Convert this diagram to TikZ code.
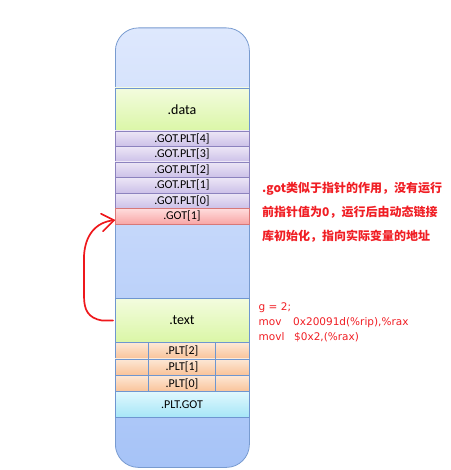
\documentclass[tikz,border=0pt]{standalone}
\usepackage{fontspec}
\setmainfont{Carlito}
\newfontfamily\cjk{Noto Sans CJK SC}
\newfontfamily\codefont{DejaVu Sans}
\usetikzlibrary{calc}
\definecolor{outerTop}{RGB}{222,232,253}
\definecolor{outerBot}{RGB}{166,195,247}
\definecolor{outerLine}{RGB}{120,155,208}
\definecolor{greenTop}{RGB}{243,252,222}
\definecolor{greenBot}{RGB}{218,246,166}
\definecolor{lavTop}{RGB}{236,230,246}
\definecolor{lavBot}{RGB}{204,192,232}
\definecolor{lavLine}{RGB}{140,130,190}
\definecolor{pinkTop}{RGB}{255,220,220}
\definecolor{pinkBot}{RGB}{248,166,166}
\definecolor{pinkLine}{RGB}{215,120,120}
\definecolor{orTop}{RGB}{253,232,214}
\definecolor{orBot}{RGB}{249,194,152}
\definecolor{cyTop}{RGB}{224,248,253}
\definecolor{cyBot}{RGB}{166,230,247}
\definecolor{bandLine}{RGB}{110,150,208}
\definecolor{penred}{RGB}{238,24,28}
\definecolor{txtred}{RGB}{240,30,36}
\tikzset{
  band/.style={shade, draw=bandLine, line width=0.7pt, minimum width=134pt,
    inner sep=0pt, outer sep=0pt, anchor=north west, text=black},
  greenband/.style={band, top color=greenTop, bottom color=greenBot, minimum height=43.5pt,
    font=\fontsize{14}{16}\selectfont},
  lavband/.style={band, top color=lavTop, bottom color=lavBot, draw=lavLine, minimum height=15.5pt,
    font=\fontsize{12}{13}\selectfont},
  pinkband/.style={band, top color=pinkTop, bottom color=pinkBot, draw=pinkLine, minimum height=15.5pt,
    font=\fontsize{12}{13}\selectfont},
  orband/.style={band, top color=orTop, bottom color=orBot, minimum height=16.4pt,
    font=\fontsize{12}{13}\selectfont},
  cyband/.style={band, top color=cyTop, bottom color=cyBot, minimum height=25.5pt,
    font=\fontsize{12}{13}\selectfont},
  note/.style={anchor=base west, inner sep=0pt, text=txtred,
    font=\cjk\bfseries\fontsize{12}{14}\selectfont},
  code/.style={anchor=base west, inner sep=0pt, text=txtred,
    font=\codefont\fontsize{10.5}{13}\selectfont},
  pen/.style={draw=penred, line width=1.7pt, line cap=round, line join=round}
}
\begin{document}
\begin{tikzpicture}[x=1pt,y=-1pt]
\useasboundingbox (0,0) rectangle (450,470);
% outer memory column
\node[shade, top color=outerTop, bottom color=outerBot, draw=outerLine, line width=0.8pt,
  rounded corners=23pt, minimum width=134pt, minimum height=439.5pt, inner sep=0pt,
  anchor=north west] (mem) at (115,27.5) {};
% bands
\node[greenband] (data) at (115,88) {.data};
\node[lavband] (gp4) at (115,131) {.GOT.PLT[4]};
\node[lavband] (gp3) at (115,146.5) {.GOT.PLT[3]};
\node[lavband] (gp2) at (115,162) {.GOT.PLT[2]};
\node[lavband] (gp1) at (115,177.5) {.GOT.PLT[1]};
\node[lavband] (gp0) at (115,193) {.GOT.PLT[0]};
\node[pinkband] (got1) at (115,208.5) {.GOT[1]};
\node[greenband, minimum height=44pt] (text) at (115,298.5) {.text};
\node[orband] (plt2) at (115,342.5) {.PLT[2]};
\node[orband] (plt1) at (115,358.9) {.PLT[1]};
\node[orband] (plt0) at (115,375.3) {.PLT[0]};
\node[cyband] (pltgot) at (115,391.7) {.PLT.GOT};
% PLT cell dividers
\draw[bandLine, line width=0.7pt] ($(plt2.north west)+(33.3,0)$) -- ($(plt0.south west)+(33.3,0)$);
\draw[bandLine, line width=0.7pt] ($(plt2.north west)+(100.7,0)$) -- ($(plt0.south west)+(100.7,0)$);
% note text
\node[note] (n1) at (262,192.6) {.got类似于指针的作用，没有运行};
\node[note] (n2) at (262,216.6) {前指针值为0，运行后由动态链接};
\node[note] (n3) at (262,240.3) {库初始化，指向实际变量的地址};
% code text
\node[code] (c1) at (258.5,310.7) {g = 2;};
\node[code] (c2) at (258.5,325.5) {\makebox[34.5pt][l]{mov}0x20091d(\%rip),\%rax};
\node[code] (c3) at (258.5,340) {\makebox[35.5pt][l]{movl}\$0x2,(\%rax)};
% hand-drawn red arrow
\draw[pen] ([xshift=-2pt]text.west) -- ++(-11,0) .. controls (88,318) and (84,310) .. (84,296)
  -- (84,256) .. controls (85,236) and (95,222) .. ([shift={(-1,4)}]got1.west);
\draw[pen] ([shift={(-14,-2.5)}]got1.west) -- ([shift={(-1,4)}]got1.west) -- ([shift={(-12,15)}]got1.west);
\end{tikzpicture}
\end{document}
